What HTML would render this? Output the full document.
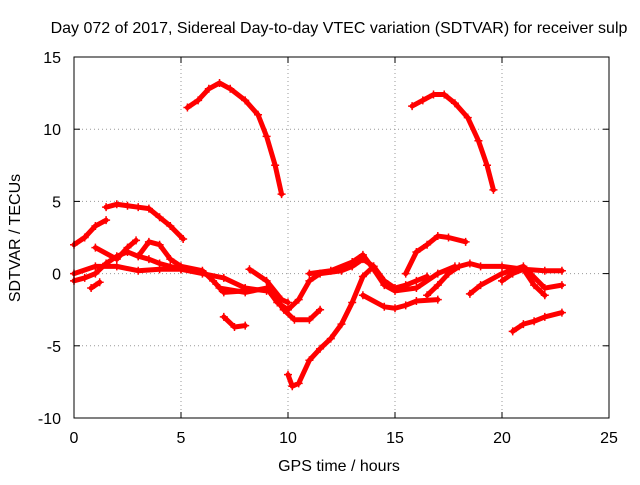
<!DOCTYPE html>
<html><head><meta charset="utf-8"><style>
body{margin:0;background:#fff;font-family:"Liberation Sans",sans-serif}
svg text{font-family:"Liberation Sans",sans-serif;font-size:16px;fill:#000}
</style></head><body>
<svg id="chart" width="640" height="480">
<rect width="640" height="480" fill="#fff"/>
<text x="339" y="33" text-anchor="middle">Day 072 of 2017, Sidereal Day-to-day VTEC variation (SDTVAR) for receiver sulp</text>
<text x="339" y="471" text-anchor="middle">GPS time / hours</text>
<text transform="translate(20,238) rotate(-90)" text-anchor="middle">SDTVAR / TECUs</text>
<g id="grid"></g><g id="ticks"></g><g id="series"></g>
<rect x="74" y="57" width="535" height="361" fill="none" stroke="#000"/>
</svg>
<script>
const xTicks=[0,5,10,15,20,25];
const yTicks=[-10,-5,0,5,10,15];
const track1=[[5.3,11.5],[5.8,12],[6.3,12.8],[6.8,13.2],[7.3,12.8],[8,12],[8.6,11],[9,9.5],[9.4,7.5],[9.7,5.5]];
const track2=[[15.8,11.6],[16.3,12],[16.8,12.4],[17.3,12.4],[17.8,11.8],[18.4,10.8],[18.9,9.2],[19.3,7.5],[19.6,5.8]];
const track3=[[0,2],[0.5,2.5],[1,3.3],[1.5,3.7]];
const track4=[[1.5,4.6],[2,4.8],[2.5,4.7],[3,4.6],[3.5,4.5],[4,3.9],[4.5,3.3],[5.1,2.4]];
const track5=[[0,-0.5],[0.5,-0.3],[1,0],[1.5,0.7],[2,1.2],[2.5,1.5],[3,1.2],[3.5,1],[4,0.7],[4.5,0.5],[5,0.3]];
const track6=[[10,-7],[10.2,-7.8],[10.5,-7.6],[11,-6],[11.5,-5.2],[12,-4.5],[12.5,-3.5],[13,-2],[13.5,-0.2],[14,0.5]];
const track7=[[7,-3],[7.5,-3.7],[8,-3.6]];
const track8=[[20.5,-4],[21,-3.5],[21.5,-3.3],[22,-3],[22.8,-2.7]];
const track9=[[6.8,-1],[8,-1.3],[9,-1],[9.5,-2],[10,-2.5],[10.5,-1.8],[11,-0.5],[11.5,0],[12.5,0.2],[13,0.5],[13.5,1],[14,0.5],[14.5,-0.5],[15,-1],[15.5,-0.8],[16,-0.5],[16.5,-0.2]];
const track10=[[9.3,-1.5],[9.8,-2.5],[10.3,-3.2],[11,-3.2],[11.5,-2.5]];
const track11=[[13.5,-1.5],[14.5,-2.3],[15,-2.4],[15.5,-2.2],[16,-1.9],[17,-1.8]];
const track12=[[15.5,0],[16,1.5],[16.5,2],[17,2.6],[17.5,2.5],[18.3,2.2]];
const track13=[[16.5,-1.5],[17,-0.8],[17.5,0],[18,0.5],[18.5,0.7],[19,0.5],[20,0.5],[21,0.3],[22,0.2],[22.8,0.2]];
const track14=[[18.5,-1.4],[19,-0.8],[20,0],[21,0.5],[22,-1],[22.8,-0.8]];
const track15=[[0,0],[1,0.5],[2,0.5],[3,0.2],[4,0.3],[5,0.3],[6,0],[7,-0.3],[8,-1],[9,-1.2]];
const track16=[[1,1.8],[2,1],[2.5,1.8],[2.9,2.3]];
const track17=[[3,1.2],[3.5,2.2],[4,2],[4.5,1],[5,0.5],[6,0.2],[6.5,-0.5],[7,-1.3],[8,-1.2]];
const track18=[[0.8,-1],[1.2,-0.6]];
const track19=[[8.2,0.3],[9,-0.5],[9.7,-1.8],[10,-2]];
const track20=[[11,0],[12,0.2],[13,0.8],[13.5,1.3],[14,0.3],[14.5,-0.8],[15,-1.2],[16,-1],[17,0],[17.8,0.5]];
const track21=[[20,-0.5],[20.5,0],[21,0.3],[21.5,-0.8],[22,-1.5]];
const tracks=[track1,track2,track3,track4,track5,track6,track7,track8,track9,track10,track11,track12,track13,track14,track15,track16,track17,track18,track19,track20,track21];
const X0=74,X1=609,Y0=418,Y1=57;
function sx(v){return X0+(v-0)/(25-0)*(X1-X0);}
function sy(v){return Y0-(v+10)/(15+10)*(Y0-Y1);}
const NS='http://www.w3.org/2000/svg';
const grid=document.getElementById('grid'),ticks=document.getElementById('ticks'),ser=document.getElementById('series');
function mk(tag,attrs,parent){const e=document.createElementNS(NS,tag);for(const k in attrs)e.setAttribute(k,attrs[k]);parent.appendChild(e);return e;}
xTicks.forEach(t=>{
  const x=sx(t);
  if(t>0&&t<25){const g=mk('line',{x1:x,x2:x,y1:Y1,y2:Y0,stroke:'#999','stroke-dasharray':'1,3'},grid);
  
  }
  mk('line',{x1:x,x2:x,y1:Y0,y2:Y0-6,stroke:'#000'},ticks);
  mk('line',{x1:x,x2:x,y1:Y1,y2:Y1+6,stroke:'#000'},ticks);
  const l=mk('text',{x:x,y:Y0+25,'text-anchor':'middle'},ticks);l.textContent=t;
  
  
});
yTicks.forEach(t=>{
  const y=sy(t);
  if(t>-10&&t<15){const g=mk('line',{x1:X0,x2:X1,y1:y,y2:y,stroke:'#999','stroke-dasharray':'1,3'},grid);
  
  }
  mk('line',{x1:X0,x2:X0+6,y1:y,y2:y,stroke:'#000'},ticks);
  mk('line',{x1:X1,x2:X1-6,y1:y,y2:y,stroke:'#000'},ticks);
  const l=mk('text',{x:X0-13,y:y+6,'text-anchor':'end'},ticks);l.textContent=t;
  
  
});
tracks.forEach((tr,i)=>{
  const p=mk('polyline',{points:tr.map(d=>sx(d[0])+','+sy(d[1])).join(' '),fill:'none',stroke:'#f00','stroke-width':5,'stroke-linejoin':'round','stroke-linecap':'round'},ser);
  
  
  tr.forEach(d=>{
    const x=sx(d[0]),y=sy(d[1]);
    const m=mk('path',{d:`M${x-4},${y}H${x+4}M${x},${y-4}V${y+4}`,stroke:'#f00','stroke-width':1.5},ser);
    
    
  });
});
</script>
</body></html>
